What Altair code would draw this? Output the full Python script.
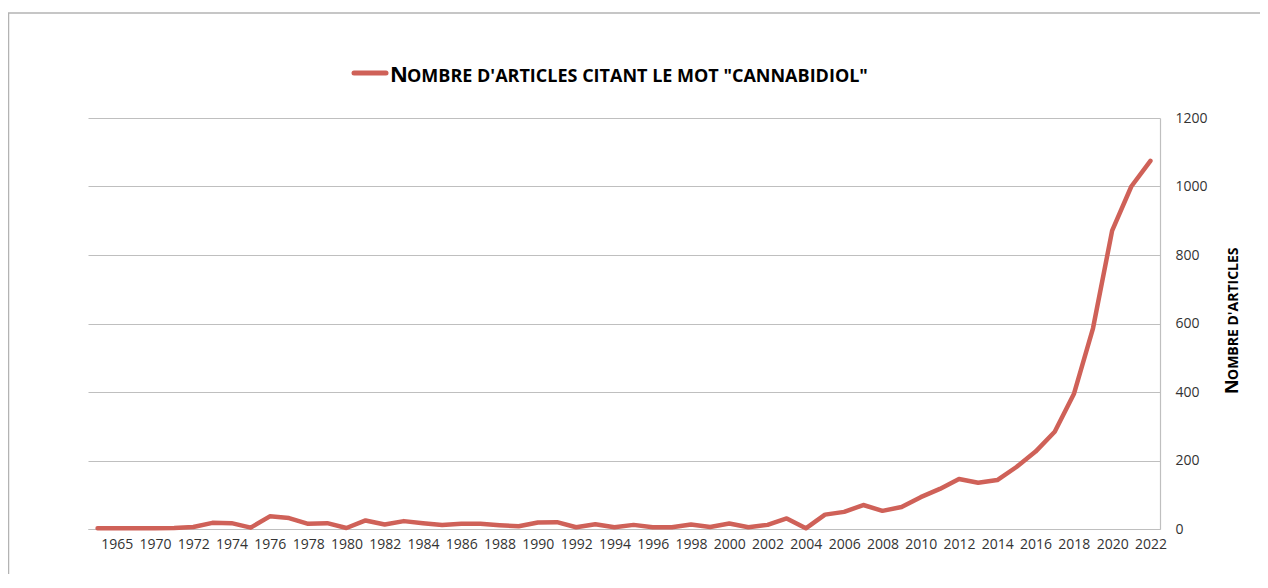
import altair as alt
import pandas as pd

years = ["1964", "1965", "1969", "1970"] + [str(y) for y in range(1971, 2023)]
counts = [2, 2, 2, 2, 3, 6, 18, 17, 4, 37, 32, 15, 17, 3, 25, 13, 23, 17, 12, 15,
          15, 11, 8, 19, 20, 5, 14, 5, 12, 5, 5, 13, 6, 16, 5, 12, 31, 2, 42, 50,
          70, 53, 64, 93, 117, 146, 135, 143, 181, 226, 284, 394, 586, 871, 1000, 1075]
label_years = [y for i, y in enumerate(years) if i % 2 == 1]
y_ticks = [0, 200, 400, 600, 800, 1000, 1200]

legend_first = "N"
legend_rest = "OMBRE D'ARTICLES CITANT LE MOT \"CANNABIDIOL\""
axis_first = "N"
axis_rest = "OMBRE D'ARTICLES"

LINE = "#cf6158"
GRID = "#bfbfbf"
FONT = "Open Sans"

df = pd.DataFrame({"year": years, "count": counts})

base = alt.Chart(df)

line = base.mark_line(color=LINE, strokeWidth=4.5, strokeJoin="round", strokeCap="round").encode(
    x=alt.X("year:O", sort=years, title=None,
            axis=alt.Axis(values=label_years, labelAngle=0, ticks=False, domainColor=GRID,
                          labelFont=FONT, labelFontSize=14, labelColor="#333333",
                          labelPadding=8, grid=False)),
    y=alt.Y("count:Q", title=None, scale=alt.Scale(domain=[0, 1200], nice=False),
            axis=alt.Axis(orient="right", values=y_ticks, ticks=False, domainColor=GRID,
                          gridColor=GRID, labelFont=FONT, labelFontSize=14, format="d",
                          labelColor="#333333", labelPadding=15)),
)

one = pd.DataFrame({"a": [0]})
frame_top = alt.Chart(one).mark_rule(color="#b3b3b3", strokeWidth=1.5).encode(
    x=alt.value(-80), x2=alt.value(1300), y=alt.value(-105))
frame_left = alt.Chart(one).mark_rule(color="#b3b3b3", strokeWidth=1.5).encode(
    x=alt.value(-79.5), y=alt.value(-105), y2=alt.value(700))

leg_line = alt.Chart(one).mark_rule(
    color=LINE, strokeWidth=5, strokeCap="round"
).encode(x=alt.value(266), x2=alt.value(298), y=alt.value(-45))

leg_n = alt.Chart(pd.DataFrame({"t": [legend_first]})).mark_text(
    font=FONT, fontWeight="bold", fontSize=22, align="left", baseline="alphabetic", color="#000000"
).encode(text="t:N", x=alt.value(302), y=alt.value(-36))

leg_rest = alt.Chart(pd.DataFrame({"t": [legend_rest]})).mark_text(
    font=FONT, fontWeight="bold", fontSize=18, align="left", baseline="alphabetic", color="#000000"
).encode(text="t:N", x=alt.value(319), y=alt.value(-36))

ax_n = alt.Chart(pd.DataFrame({"t": [axis_first]})).mark_text(
    font=FONT, fontWeight="bold", fontSize=18, align="left", baseline="alphabetic",
    angle=270, color="#000000"
).encode(text="t:N", x=alt.value(1150), y=alt.value(276))

ax_rest = alt.Chart(pd.DataFrame({"t": [axis_rest]})).mark_text(
    font=FONT, fontWeight="bold", fontSize=14, align="left", baseline="alphabetic",
    angle=270, color="#000000"
).encode(text="t:N", x=alt.value(1150), y=alt.value(262))

chart = alt.layer(frame_top, frame_left, line, leg_line, leg_n, leg_rest, ax_n, ax_rest).properties(
    width=1072, height=411,
    autosize=alt.AutoSizeParams(type="none"),
    padding={"left": 80, "top": 110, "right": 100, "bottom": 45},
).configure_view(stroke=None).configure_axis(gridWidth=1, domainWidth=1.2)

chart.save("out.html", embed_options={"renderer": "svg", "actions": False})
